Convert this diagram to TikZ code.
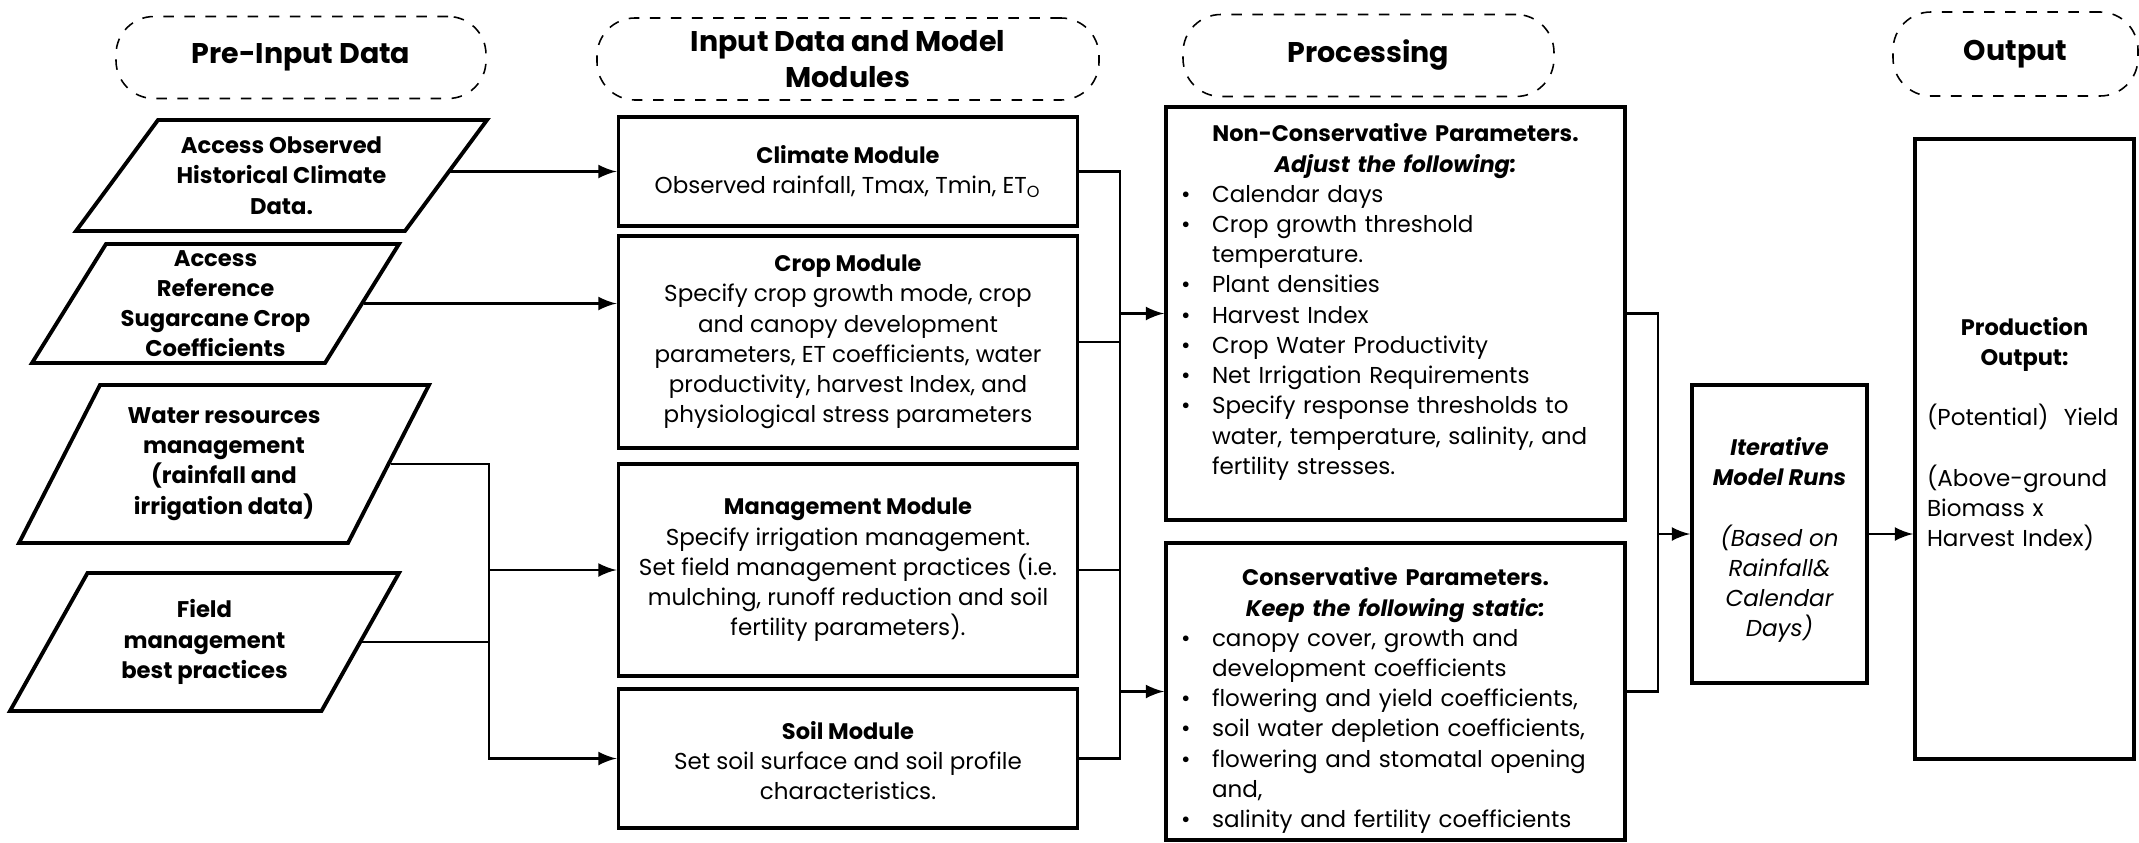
\documentclass[tikz,border=0pt]{standalone}
\usepackage{fontspec}
\setmainfont{Poppins}
\usetikzlibrary{shapes.geometric, arrows, positioning}

\tikzset{
	block/.style={draw, line width=1.1pt},
	datain/.style={draw, line width=1.1pt, trapezium},
	phase/.style={draw, dashed, line width=0.45pt, rounded corners=0.38cm},
	link/.style={line width=0.8pt},
	boxtext/.style={font=\fontsize{6.55}{8.6}\selectfont, align=center, inner sep=0pt},
	boldtext/.style={font=\fontsize{6.45}{8.6}\selectfont\bfseries, align=center, inner sep=0pt},
	headtext/.style={font=\fontsize{8.1}{10.3}\selectfont\bfseries, align=center, inner sep=0pt}
}
\newcommand{\boxtitle}[1]{{\fontsize{6.4}{8.6}\selectfont\bfseries #1}}
\newcommand{\bpoint}[1]{\par\hangindent=0.39cm\hangafter=1\noindent\hbox to 0.39cm{\hspace{0.08cm}\textbullet\hfil}#1}

\begin{document}
\begin{tikzpicture}
		\useasboundingbox (0,0) rectangle (21.39,-8.43);

		% column headings
		\node[phase, minimum width=3.7cm, minimum height=0.82cm] (pre) at (3.01,-0.575) {};
		\node[headtext] (pretext) at (pre) {Pre-Input Data};

		\node[phase, minimum width=5.02cm, minimum height=0.82cm] (inp) at (8.48,-0.59) {};
		\node[headtext] (inptext) at (inp) {Input Data and Model\\Modules};

		\node[phase, minimum width=3.71cm, minimum height=0.82cm] (proc) at (13.685,-0.555) {};
		\node[headtext] (proctext) at (proc) {Processing};

		\node[phase, minimum width=2.45cm, minimum height=0.84cm] (outp) at (20.155,-0.54) {};
		\node[headtext] (outptext) at (outp) {Output};

		% pre-input data
		\node[datain, inner xsep=1.235cm, inner ysep=0.555cm, trapezium left angle=53.55, trapezium right angle=126.45] (obs) at (2.815,-1.755) {};
		\node[boldtext] (obstext) at (obs) {Access Observed\\Historical Climate\\Data.};

		\node[datain, inner xsep=1.095cm, inner ysep=0.595cm, trapezium left angle=58.13, trapezium right angle=121.87] (coef) at (2.155,-3.035) {};
		\node[boldtext] (coeftext) at (coef) {Access\\Reference\\Sugarcane Crop\\Coefficients};

		\node[datain, inner xsep=1.24cm, inner ysep=0.79cm, trapezium left angle=62.86, trapezium right angle=117.14] (water) at (2.24,-4.64) {};
		\node[boldtext] (watertext) at (water) {Water resources\\management\\(rainfall and\\irrigation data)};

		\node[datain, inner xsep=1.17cm, inner ysep=0.69cm, trapezium left angle=60.68, trapezium right angle=119.32] (field) at (2.045,-6.42) {};
		\node[boldtext] (fieldtext) at (field) {Field\\management\\best practices};

		% model modules
		\node[block, minimum width=4.59cm, minimum height=1.09cm] (climate) at (8.48,-1.715) {};
		\node[boxtext] (climatetext) at (climate) {\boxtitle{Climate Module}\\Observed rainfall, Tmax, Tmin, ET\textsubscript{O}};

		\node[block, minimum width=4.59cm, minimum height=2.12cm] (crop) at (8.48,-3.42) {};
		\node[boxtext] (croptext) at (crop) {\boxtitle{Crop Module}\\Specify crop growth mode, crop\\and canopy development\\parameters, ET coefficients, water\\productivity, harvest Index, and\\physiological stress parameters};

		\node[block, minimum width=4.59cm, minimum height=2.12cm] (mgmt) at (8.48,-5.70) {};
		\node[boxtext] (mgmttext) at (mgmt) {\boxtitle{Management Module}\\Specify irrigation management.\\Set field management practices (i.e.\\mulching, runoff reduction and soil\\fertility parameters).};

		\node[block, minimum width=4.59cm, minimum height=1.39cm] (soil) at (8.48,-7.585) {};
		\node[boxtext] (soiltext) at ([yshift=-0.02cm]soil.center) {\boxtitle{Soil Module}\\Set soil surface and soil profile\\characteristics.};

		% processing
		\node[block, minimum width=4.59cm, minimum height=4.13cm] (nc) at (13.955,-3.135) {};
		\node[boxtext, anchor=north, text width=4.45cm, align=left] (nctext) at ([yshift=-0.18cm]nc.north) {%
			{\centering\fontsize{6.4}{8.6}\selectfont\bfseries Non-Conservative Parameters.\\\itshape Adjust the following:\par}%
			\bpoint{Calendar days}
			\bpoint{Crop growth threshold\newline temperature.}
			\bpoint{Plant densities}
			\bpoint{Harvest Index}
			\bpoint{Crop Water Productivity}
			\bpoint{Net Irrigation Requirements}
			\bpoint{Specify response thresholds to\newline water, temperature, salinity, and\newline fertility stresses.}\par};

		\node[block, minimum width=4.59cm, minimum height=2.97cm] (cons) at (13.955,-6.915) {};
		\node[boxtext, anchor=north, text width=4.45cm, align=left] (constext) at ([yshift=-0.26cm]cons.north) {%
			{\centering\fontsize{6.4}{8.6}\selectfont\bfseries Conservative Parameters.\\\itshape Keep the following static:\par}%
			\bpoint{canopy cover, growth and\newline development coefficients}
			\bpoint{flowering and yield coefficients,}
			\bpoint{soil water depletion coefficients,}
			\bpoint{flowering and stomatal opening\newline and,}
			\bpoint{salinity and fertility coefficients}\par};

		\node[block, minimum width=1.75cm, minimum height=2.98cm] (iter) at (17.795,-5.34) {};
		\node[boxtext, font=\fontsize{6.55}{8.6}\selectfont\itshape] (itertext) at ([yshift=-0.06cm]iter.center) {\boxtitle{Iterative}\\\boxtitle{Model Runs}\\[8.6pt](Based on\\Rainfall\&\\Calendar\\Days)};

		% output
		\node[block, minimum width=2.19cm, minimum height=6.2cm] (out) at (20.245,-4.49) {};
		\node[boxtext, text width=1.95cm, align=left] (outtext) at ([yshift=0.15cm]out.center) {%
			{\centering\fontsize{6.4}{8.6}\selectfont\bfseries Production\\Output:\par}\vspace{8.6pt}%
			(Potential)\ \ Yield\par\vspace{8.6pt}%
			(Above-ground\\Biomass x\\Harvest Index)};

		% connectors
		\coordinate (inbus) at (4.89,-4.64);
		\coordinate (modbus) at (11.20,-1.715);
		\coordinate (procbus) at (16.58,-3.135);

		\draw[link, -latex] (obs.east |- climate.west) -- (climate.west);
		\draw[link, -latex] (coef.east) -- (coef.east -| crop.west);
		\draw[link, -latex] (water.east) -- (inbus) |- (soil.west);
		\draw[link] (field.east) -- (field.east -| inbus);
		\draw[link, -latex] (inbus |- mgmt.west) -- (mgmt.west);

		\draw[link] (climate.east) -- (modbus) |- (soil.east);
		\draw[link] (crop.east) -- (crop.east -| modbus);
		\draw[link] (mgmt.east) -- (mgmt.east -| modbus);
		\draw[link, -latex] (modbus |- nc.west) -- (nc.west);
		\draw[link, -latex] (modbus |- cons.west) -- (cons.west);

		\draw[link] (nc.east) -- (procbus) |- (cons.east);
		\draw[link, -latex] (procbus |- iter.west) -- (iter.west);
		\draw[link, -latex] (iter.east) -- (iter.east -| out.west);
	\end{tikzpicture}
\end{document}
